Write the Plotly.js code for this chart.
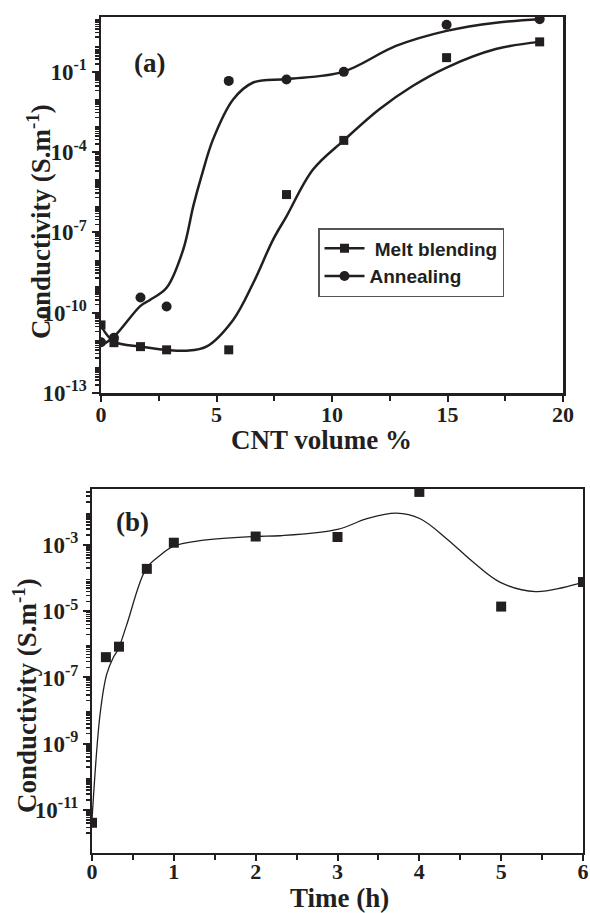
<!DOCTYPE html>
<html>
<head>
<meta charset="utf-8">
<script src="https://cdn.plot.ly/plotly-3.0.1.min.js"></script>
<style>html,body{margin:0;padding:0;background:#fff;}#chart{width:590px;height:913px;}</style>
</head>
<body>
<div id="chart"></div>
<script>
// ---- Panel (a): conductivity vs CNT volume % ----
const cntVolume = [0, 0.56, 1.71, 2.84, 5.53, 8.03, 10.51, 14.96, 18.99];
const meltBlending = [3.5e-11, 7.6e-12, 5.4e-12, 4.1e-12, 4.1e-12, 2.6e-6, 2.75e-4, 0.34, 1.32];
const annealing = [7.9e-12, 1.15e-11, 3.7e-10, 1.7e-10, 0.046, 0.052, 0.1, 5.75, 9.3];

// fitted curves
const meltFitX = [0, 0.56, 1.76, 2.84, 3.7, 4.56, 5.72, 6.59, 7.45, 8.03, 9.17, 10.51, 12.05, 13.49, 14.96, 17.09, 18.99];
const meltFitY = [3.24e-11, 8.3e-12, 5.4e-12, 4.1e-12, 3.8e-12, 5.4e-12, 5.4e-11, 1.29e-9, 5.4e-8, 4.0e-7, 2.2e-5, 2.75e-4, 4.0e-3, 0.0295, 0.145, 0.71, 1.32];
const annealFitX = [0, 0.56, 1.71, 2.12, 2.84, 3.56, 4.0, 4.35, 4.85, 5.72, 6.59, 8.05, 10.47, 12.77, 14.96, 17.1, 18.99];
const annealFitY = [5.8e-12, 1.26e-11, 1.8e-10, 3.0e-10, 8.5e-10, 2.3e-8, 1.0e-6, 1.26e-5, 3.0e-4, 9.3e-3, 0.04, 0.054, 0.1, 0.93, 3.4, 6.9, 9.3];

// ---- Panel (b): conductivity vs time ----
const timeH = [0, 0.17, 0.33, 0.67, 1, 2, 3, 4, 5, 6];
const conductivityB = [4.1e-12, 4.1e-7, 8.5e-7, 1.9e-4, 1.17e-3, 1.8e-3, 1.74e-3, 0.04, 1.38e-5, 7.6e-5];
const fitBX = [0, 0.1, 0.18, 0.26, 0.32, 0.42, 0.66, 0.83, 0.99, 1.32, 1.99, 2.3, 3.0, 3.36, 3.72, 4.01, 4.34, 4.66, 4.99, 5.42, 5.76, 5.99];
const fitBY = [5.0e-12, 8.3e-9, 1.26e-7, 4.0e-7, 7.1e-7, 3.6e-6, 1.9e-4, 4.8e-4, 9.1e-4, 1.35e-3, 1.8e-3, 1.9e-3, 2.95e-3, 6.2e-3, 9.1e-3, 6.2e-3, 1.5e-3, 3.0e-4, 7.4e-5, 3.9e-5, 5.2e-5, 7.4e-5];

// tick labels
const xTicksA = [0, 5, 10, 15, 20];
const xTicksB = [0, 1, 2, 3, 4, 5, 6];
const yLabelExpA = [-13, -10, -7, -4, -1];
const yLabelExpB = [-11, -9, -7, -5, -3];

const INK = '#231f20';
const W = 590, H = 913;

function decadeTicks(lo, hi, labelled) {
  const vals = [], text = [], other = [], minor = [];
  for (let k = lo; k <= hi; k++) {
    if (labelled.indexOf(k) >= 0) { vals.push(Number('1e' + k)); text.push('<b>10<sup>' + k + '</sup></b>'); }
    else other.push(Number('1e' + k));
    for (let m = 2; m <= 9; m++) minor.push(Number(m + 'e' + k));
  }
  return {vals, text, other, minor};
}
const tA = decadeTicks(-13, 1, yLabelExpA);
const tB = decadeTicks(-12, -1, yLabelExpB);

// points with gaps so no segments are drawn, legend shows line+marker
function gapped(a) { const r = []; a.forEach((v, i) => { if (i) r.push(null); r.push(v); }); return r; }

const traces = [
  {x: meltFitX, y: meltFitY, xaxis: 'x', yaxis: 'y', mode: 'lines', line: {color: INK, width: 2.5, shape: 'spline', smoothing: 1}, showlegend: false, hoverinfo: 'skip'},
  {x: annealFitX, y: annealFitY, xaxis: 'x', yaxis: 'y', mode: 'lines', line: {color: INK, width: 2.5, shape: 'spline', smoothing: 1}, showlegend: false, hoverinfo: 'skip'},
  {x: gapped(cntVolume), y: gapped(meltBlending), xaxis: 'x', yaxis: 'y', mode: 'lines+markers', name: '<b> Melt blending</b>', connectgaps: false,
   line: {color: INK, width: 2.5}, marker: {symbol: 'square', size: 9, color: INK}},
  {x: gapped(cntVolume), y: gapped(annealing), xaxis: 'x', yaxis: 'y', mode: 'lines+markers', name: '<b>Annealing</b>', connectgaps: false,
   line: {color: INK, width: 2.5}, marker: {symbol: 'circle', size: 10, color: INK}},
  {x: fitBX, y: fitBY, xaxis: 'x2', yaxis: 'y2', mode: 'lines', line: {color: INK, width: 1.3, shape: 'spline', smoothing: 1}, showlegend: false, hoverinfo: 'skip'},
  {x: timeH, y: conductivityB, xaxis: 'x2', yaxis: 'y2', mode: 'markers', showlegend: false, marker: {symbol: 'square', size: 10, color: INK}}
];

const serif = 'Liberation Serif, Times New Roman, serif';
const tickFont = {family: serif, size: 22, color: INK};
const yTickFont = {family: serif, size: 23, color: INK};
const titleFont = {family: serif, size: 27, color: INK};

function xAxis(dom, anchor, range, ticks, minorVals, lw, standoff) {
  return {domain: dom, anchor: anchor, range: range, tickmode: 'array', tickvals: ticks, ticktext: ticks.map(v => '<b>' + v + '</b>'),
    ticks: 'outside', ticklen: 6, tickwidth: 2, tickcolor: INK,
    minor: {tickmode: 'array', tickvals: minorVals, ticks: 'outside', ticklen: 5, tickwidth: 2, tickcolor: INK},
    showline: true, linewidth: lw, linecolor: INK, mirror: true, showgrid: false, zeroline: false, tickfont: tickFont, ticklabelstandoff: standoff, automargin: false};
}
function yAxis(dom, anchor, range, t, lw) {
  return {domain: dom, anchor: anchor, type: 'log', range: range, tickmode: 'array', tickvals: t.vals, ticktext: t.text, ticks: 'outside', ticklen: 7, tickwidth: 2, tickcolor: INK,
    minor: {tickmode: 'array', tickvals: t.minor, ticks: 'outside', ticklen: 4, tickwidth: 1.5, tickcolor: INK},
    showline: true, linewidth: lw, linecolor: INK, mirror: true, showgrid: false, zeroline: false, tickfont: yTickFont, automargin: false};
}
// unlabelled decade ticks, same length as the labelled ones
function yDecadeOverlay(over, anchor, range, t) {
  return {overlaying: over, anchor: anchor, side: 'left', type: 'log', range: range, tickmode: 'array', tickvals: t.other, showticklabels: false,
    ticks: 'outside', ticklen: 7, tickwidth: 2, tickcolor: INK, showline: false, showgrid: false, zeroline: false, automargin: false};
}

const layout = {
  width: W, height: H, margin: {l: 0, r: 0, t: 0, b: 0}, paper_bgcolor: '#fff', plot_bgcolor: '#fff',
  xaxis: xAxis([101 / W, 563 / W], 'y', [0, 20], xTicksA, [2.5, 7.5, 12.5, 17.5], 2.5, -6),
  yaxis: yAxis([1 - 393 / H, 1 - 17 / H], 'x', [-13, 1.05], tA, 2.5),
  yaxis3: yDecadeOverlay('y', 'x', [-13, 1.05], tA),
  xaxis2: xAxis([92 / W, 583 / W], 'y2', [0, 6], xTicksB, [0.5, 1.5, 2.5, 3.5, 4.5, 5.5], 2, -8),
  yaxis2: yAxis([1 - 853 / H, 1 - 489 / H], 'x2', [-12.3, -1.31], tB, 2),
  yaxis4: yDecadeOverlay('y2', 'x2', [-12.3, -1.31], tB),
  legend: {x: 318 / W, y: 1 - 228 / H, xanchor: 'left', yanchor: 'top', bgcolor: '#fff', bordercolor: '#555', borderwidth: 1.5,
    font: {family: 'Liberation Sans, Arial, sans-serif', size: 19, color: INK}, itemwidth: 40, tracegroupgap: 0},
  annotations: [
    {text: '<b>(a)</b>', x: 149 / W, y: 1 - 63 / H, xanchor: 'center', yanchor: 'middle', xref: 'paper', yref: 'paper', showarrow: false, font: titleFont},
    {text: '<b>(b)</b>', x: 132 / W, y: 1 - 522 / H, xanchor: 'center', yanchor: 'middle', xref: 'paper', yref: 'paper', showarrow: false, font: titleFont},
    {text: '<b>Conductivity (S.m<sup>-1</sup>)</b>', x: 39 / W, y: 1 - 222 / H, xanchor: 'center', yanchor: 'middle', xref: 'paper', yref: 'paper', showarrow: false, textangle: -90, font: titleFont},
    {text: '<b>CNT volume %</b>', x: 322 / W, y: 1 - 440 / H, xanchor: 'center', yanchor: 'middle', xref: 'paper', yref: 'paper', showarrow: false, font: titleFont},
    {text: '<b>Conductivity (S.m<sup>-1</sup>)</b>', x: 25 / W, y: 1 - 696 / H, xanchor: 'center', yanchor: 'middle', xref: 'paper', yref: 'paper', showarrow: false, textangle: -90, font: titleFont},
    {text: '<b>Time (h)</b>', x: 339 / W, y: 1 - 898 / H, xanchor: 'center', yanchor: 'middle', xref: 'paper', yref: 'paper', showarrow: false, font: titleFont}
  ]
};

Plotly.newPlot('chart', traces, layout, {staticPlot: true, displayModeBar: false});
</script>
</body>
</html>
